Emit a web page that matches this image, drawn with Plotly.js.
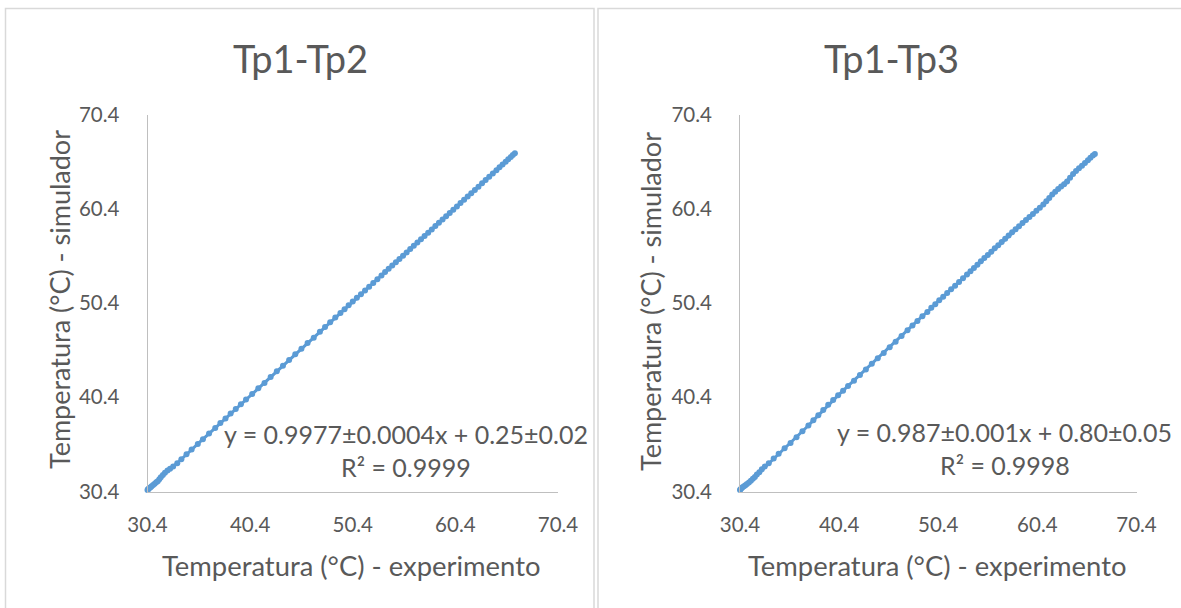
<!DOCTYPE html>
<html>
<head>
<meta charset="utf-8">
<script src="https://cdn.plot.ly/plotly-3.0.1.min.js"></script>
<style>html,body{margin:0;padding:0;background:#fff;}#chart{width:1181px;height:608px;}</style>
</head>
<body>
<div id="chart"></div>
<script>
// Tp1-Tp2 : experiment (x) vs simulator (y)
const tp2X = [30.40,30.45,30.50,30.60,30.70,30.80,30.95,31.10,31.25,31.40,31.55,31.70,31.90,32.10,32.35,32.60,32.90,33.30,33.70,34.20,34.70,35.30,35.80,36.40,37.00,37.50,38.00,38.50,39.00,39.50,40.00,40.60,41.20,41.80,42.40,43.00,43.60,44.20,44.80,45.40,46.00,46.60,47.20,47.70,48.20,48.70,49.20,49.60,50.00,50.40,50.80,51.20,51.60,52.00,52.40,52.80,53.20,53.55,53.90,54.25,54.60,54.95,55.30,55.65,56.00,56.35,56.70,57.05,57.40,57.75,58.10,58.45,58.80,59.15,59.50,59.85,60.20,60.55,60.90,61.25,61.60,61.95,62.30,62.65,63.00,63.35,63.70,64.05,64.40,64.70,65.00,65.30,65.55,65.80,66.00,66.20];
const tp2Y = [30.55,30.62,30.70,30.78,30.85,30.95,31.10,31.22,31.38,31.50,31.70,31.90,32.15,32.40,32.62,32.82,33.05,33.40,33.82,34.35,34.85,35.45,35.95,36.55,37.15,37.68,38.15,38.68,39.15,39.65,40.15,40.75,41.35,41.92,42.55,43.15,43.75,44.35,44.95,45.55,46.15,46.72,47.35,47.85,48.35,48.85,49.35,49.75,50.15,50.55,50.95,51.32,51.73,52.13,52.52,52.93,53.32,53.68,54.03,54.38,54.72,55.08,55.42,55.77,56.12,56.47,56.82,57.16,57.52,57.86,58.21,58.56,58.91,59.26,59.61,59.96,60.30,60.65,61.00,61.35,61.70,62.05,62.40,62.74,63.10,63.45,63.79,64.14,64.49,64.79,65.10,65.40,65.65,65.90,66.10,66.30];
// Tp1-Tp3
const tp3X = [30.40,30.45,30.55,30.65,30.80,30.95,31.10,31.30,31.50,31.70,31.90,32.10,32.35,32.60,32.90,33.30,33.80,34.30,34.90,35.50,36.10,36.70,37.30,37.80,38.30,38.80,39.30,39.80,40.30,40.80,41.30,41.90,42.50,43.10,43.70,44.30,44.90,45.50,46.10,46.70,47.30,47.80,48.30,48.80,49.30,49.70,50.10,50.50,50.90,51.30,51.70,52.10,52.50,52.90,53.30,53.65,54.00,54.35,54.70,55.05,55.40,55.75,56.10,56.45,56.80,57.15,57.50,57.85,58.20,58.55,58.90,59.25,59.60,59.95,60.30,60.65,61.00,61.30,61.60,61.90,62.20,62.50,62.80,63.10,63.40,63.70,64.00,64.30,64.60,64.90,65.20,65.50,65.75,66.00,66.20];
const tp3Y = [30.55,30.65,30.75,30.85,30.95,31.05,31.20,31.35,31.55,31.75,31.95,32.20,32.45,32.75,33.05,33.40,33.90,34.40,35.00,35.55,36.15,36.80,37.40,37.95,38.50,39.05,39.60,40.10,40.60,41.10,41.60,42.15,42.75,43.35,43.95,44.55,45.10,45.70,46.30,46.90,47.50,48.00,48.50,49.00,49.45,49.90,50.28,50.68,51.05,51.45,51.85,52.23,52.63,53.03,53.42,53.78,54.12,54.47,54.82,55.17,55.50,55.85,56.20,56.53,56.88,57.22,57.55,57.90,58.22,58.55,58.88,59.20,59.52,59.85,60.18,60.50,60.85,61.20,61.55,61.90,62.20,62.50,62.75,63.00,63.30,63.70,64.10,64.40,64.70,64.95,65.25,65.55,65.80,66.05,66.20];

const tickVals = [30.4, 40.4, 50.4, 60.4, 70.4];
const tickText = ["30.4", "40.4", "50.4", "60.4", "70.4"];
const titles = ["Tp1-Tp2", "Tp1-Tp3"];
const xTitle = "Temperatura (°C) - experimento";
const yTitle = "Temperatura (°C) - simulador";
const eqs = ["y = 0.9977±0.0004x + 0.25±0.02", "y = 0.987±0.001x + 0.80±0.05"];
const r2s = ["R² = 0.9999", "R² = 0.9998"];

const W = 1181, H = 608;
const FONT = "Lato, 'Open Sans', sans-serif";
const TXT = "#595959";
const BLUE = "#5B9BD5";
const px = v => v / W;
const py = v => 1 - v / H;

const mk = (x, y, xa, ya) => ({
  x: x, y: y, xaxis: xa, yaxis: ya, type: "scatter", mode: "lines+markers",
  line: {color: BLUE, width: 3}, marker: {color: BLUE, size: 6},
  cliponaxis: false, hoverinfo: "x+y", showlegend: false
});

const axisBase = {
  range: [30.4, 70.4], tickvals: tickVals, ticktext: tickText,
  showgrid: false, zeroline: false, showline: true, linecolor: "#bfbfbf", linewidth: 1,
  ticks: "", tickfont: {family: FONT, size: 20.5, color: TXT}, fixedrange: true
};

const ann = (text, x, y, size, angle) => ({
  text: text, xref: "paper", yref: "paper", x: px(x), y: py(y),
  xanchor: "center", yanchor: "middle", showarrow: false, textangle: angle || 0,
  font: {family: FONT, size: size, color: TXT}
});

const layout = {
  width: W, height: H, margin: {l: 0, r: 0, t: 0, b: 0},
  paper_bgcolor: "#fff", plot_bgcolor: "#fff",
  xaxis: Object.assign({}, axisBase, {domain: [px(147.5), px(558)], anchor: "y", ticklabelstandoff: 15}),
  yaxis: Object.assign({}, axisBase, {domain: [py(491.5), py(114.5)], anchor: "x", ticklabelstandoff: 23}),
  xaxis2: Object.assign({}, axisBase, {domain: [px(740), px(1136.5)], anchor: "y2", ticklabelstandoff: 15}),
  yaxis2: Object.assign({}, axisBase, {domain: [py(491.5), py(114.5)], anchor: "x2", ticklabelstandoff: 23}),
  shapes: [
    {type: "rect", xref: "paper", yref: "paper", x0: px(5.5), x1: px(594), y0: py(640), y1: py(8.5), line: {color: "#d9d9d9", width: 1.5}},
    {type: "rect", xref: "paper", yref: "paper", x0: px(598), x1: px(1190), y0: py(640), y1: py(8.5), line: {color: "#d9d9d9", width: 1.5}}
  ],
  annotations: [
    ann(titles[0], 300, 58, 38),
    ann(titles[1], 891.5, 58, 38),
    ann(xTitle, 351, 565, 27.4),
    ann(xTitle, 937, 565, 27.4),
    ann(yTitle, 59, 300, 27, -90),
    ann(yTitle, 650, 302, 27, -90),
    ann(eqs[0], 405.6, 434, 25),
    ann(r2s[0], 406, 467, 25),
    ann(eqs[1], 1004.5, 432, 25),
    ann(r2s[1], 1005, 465, 25)
  ]
};

Plotly.newPlot("chart", [mk(tp2X, tp2Y, "x", "y"), mk(tp3X, tp3Y, "x2", "y2")], layout, {displayModeBar: false, staticPlot: true});
</script>
</body>
</html>
